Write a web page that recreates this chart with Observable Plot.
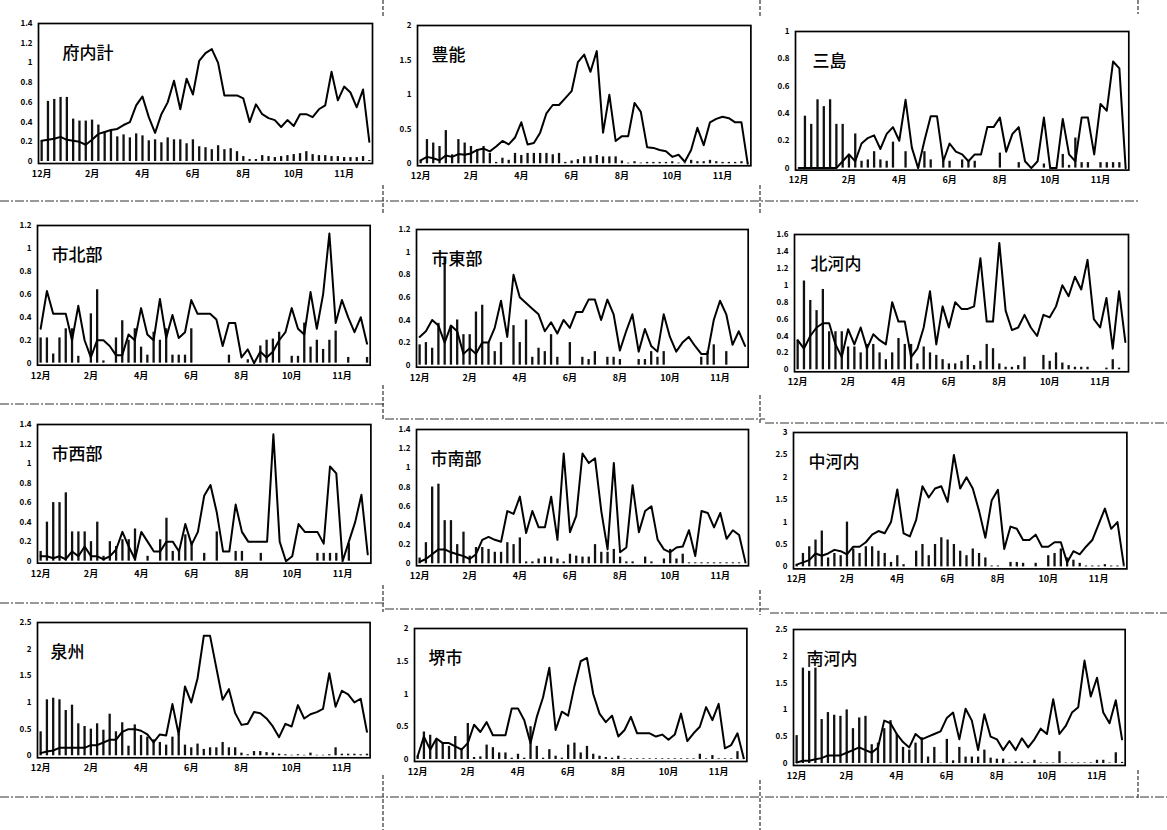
<!DOCTYPE html>
<html><head><meta charset="utf-8">
<script src="https://cdn.jsdelivr.net/npm/d3@7"></script>
<script src="https://cdn.jsdelivr.net/npm/@observablehq/plot@0.6"></script>
<style>
body{margin:0;background:#fff;width:1167px;height:830px;position:relative;overflow:hidden;font-family:"Noto Sans CJK JP","Noto Sans",sans-serif;}
.panel{position:absolute;}
#deco{position:absolute;left:0;top:0;}
.panel svg g[aria-label="x-axis tick label"] text,
.panel svg g[aria-label="y-axis tick label"] text{font-weight:bold;}
</style></head><body>
<svg id="deco" width="1167" height="830"></svg>
<script>
// ---- data (weekly values, 53 weeks from December) ----
const titles = ["府内計","豊能","三島","市北部","市東部","北河内","市西部","市南部","中河内","泉州","堺市","南河内"];
const monthTicks = [0, 8, 16, 24, 32, 40, 48];
const monthLabels = ["12月","2月","4月","6月","8月","10月","11月"];
const yMaxes = [1.4, 2, 1, 1.2, 1.2, 1.6, 1.4, 1.4, 3, 2.5, 2, 2.5];
const yTickSteps = [0.2, 0.5, 0.2, 0.2, 0.2, 0.2, 0.2, 0.2, 0.5, 0.5, 0.5, 0.5];

const line1 = [0.21,0.22,0.23,0.25,0.22,0.21,0.2,0.17,0.22,0.28,0.3,0.32,0.33,0.37,0.4,0.57,0.66,0.45,0.29,0.48,0.6,0.82,0.53,0.84,0.68,1.02,1.1,1.14,1.0,0.67,0.67,0.67,0.64,0.4,0.58,0.48,0.44,0.42,0.35,0.42,0.36,0.48,0.48,0.45,0.53,0.57,0.91,0.62,0.76,0.7,0.55,0.73,0.2];
const bars1 = [0.21,0.61,0.63,0.65,0.65,0.43,0.41,0.41,0.42,0.37,0.3,0.32,0.25,0.27,0.24,0.28,0.26,0.21,0.22,0.19,0.24,0.22,0.22,0.18,0.22,0.15,0.14,0.12,0.16,0.12,0.13,0.1,0.05,0.02,0.02,0.06,0.05,0.04,0.05,0.06,0.07,0.08,0.1,0.07,0.06,0.06,0.05,0.05,0.04,0.04,0.04,0.05,0.01];

const line2 = [0.05,0.1,0.08,0.05,0.12,0.1,0.14,0.13,0.15,0.2,0.22,0.18,0.25,0.33,0.28,0.38,0.6,0.28,0.3,0.45,0.73,0.85,0.85,0.95,1.05,1.47,1.58,1.33,1.63,0.45,1.0,0.33,0.4,0.4,0.88,0.75,0.24,0.23,0.2,0.18,0.1,0.13,0.03,0.2,0.52,0.27,0.6,0.65,0.68,0.66,0.6,0.6,0.0];
const bars2 = [0.05,0.35,0.3,0.25,0.48,0.13,0.35,0.3,0.25,0.2,0.25,0.15,0.02,0.08,0.05,0.15,0.12,0.15,0.15,0.15,0.15,0.13,0.15,0.02,0.04,0.06,0.1,0.1,0.12,0.1,0.1,0.1,0.04,0.01,0.03,0.01,0.02,0.02,0.02,0.02,0.03,0.01,0.01,0.05,0.03,0.03,0.05,0.03,0.02,0.02,0.02,0.03,0.01];

const line3 = [0,0,0,0,0,0,0,0.05,0.1,0.05,0.18,0.22,0.24,0.14,0.25,0.3,0.2,0.5,0.15,0,0.2,0.38,0.38,0.05,0.18,0.12,0.1,0.05,0.1,0.1,0.3,0.3,0.37,0.12,0.25,0.3,0.05,0,0.05,0.37,0,0,0.36,0.1,0.05,0.37,0.37,0.1,0.47,0.42,0.78,0.73,0];
const bars3 = [0,0.38,0.32,0.5,0.45,0.5,0.32,0.32,0.1,0.25,0.05,0.06,0.12,0.06,0.05,0.19,0,0.12,0,0.02,0.12,0.06,0,0.05,0.05,0,0.06,0.05,0.05,0,0,0,0.11,0,0,0.04,0,0,0,0.03,0,0,0.1,0.02,0.22,0.04,0.04,0,0.04,0.04,0.04,0.04,0];

const line4 = [0.3,0.63,0.43,0.43,0.43,0.2,0.5,0.2,0.05,0.2,0.2,0.15,0.07,0.07,0.25,0.2,0.48,0.25,0.2,0.56,0.22,0.42,0.22,0.27,0.55,0.43,0.43,0.43,0.38,0.15,0.35,0.35,0.05,0.12,0,0.1,0.05,0.1,0.2,0.27,0.48,0.3,0.25,0.62,0.3,0.6,1.13,0.35,0.55,0.4,0.27,0.4,0.17];
const bars4 = [0.22,0.22,0.08,0.22,0.3,0.3,0.06,0,0.43,0.64,0.02,0,0.22,0.37,0.2,0.3,0.14,0.07,0.27,0.2,0.3,0.07,0.07,0.07,0.3,0,0,0,0,0,0.07,0,0,0.03,0,0.15,0.2,0.21,0.27,0,0.06,0.06,0.35,0.14,0.2,0.12,0.2,0.28,0,0.05,0,0,0.05];

const line5 = [0.25,0.3,0.4,0.35,0.2,0.35,0.3,0.1,0.15,0.1,0.2,0.2,0.33,0.57,0.25,0.8,0.6,0.55,0.5,0.45,0.3,0.38,0.28,0.4,0.33,0.47,0.47,0.58,0.58,0.4,0.58,0.45,0.13,0.3,0.45,0.12,0.32,0.17,0.12,0.45,0.25,0.12,0.2,0.25,0.17,0.1,0.1,0.4,0.57,0.45,0.18,0.3,0.17];
const bars5 = [0.18,0.2,0.15,0.37,0.95,0.35,0.4,0.27,0.27,0.47,0.53,0.2,0.12,0.2,0,0.35,0.2,0.4,0.07,0.15,0.12,0.27,0.07,0,0.2,0,0.07,0.05,0.12,0,0.07,0.07,0.05,0,0,0.05,0.05,0.12,0.07,0.12,0,0,0,0,0,0.07,0.12,0.18,0,0.12,0,0,0];

const line6 = [0.35,0.25,0.4,0.5,0.55,0.55,0.3,0.15,0.48,0.3,0.5,0.25,0.42,0.35,0.3,0.8,0.57,0.57,0.15,0.25,0.5,0.93,0.3,0.75,0.5,0.8,0.72,0.72,0.75,1.32,0.57,0.57,1.5,0.7,0.47,0.5,0.65,0.5,0.4,0.65,0.62,0.75,1.0,0.87,1.1,0.95,1.3,0.6,0.5,0.85,0.25,0.93,0.33];
const bars6 = [0.35,1.05,0.82,0.7,0.95,0.45,0.45,0.45,0.27,0.27,0.2,0.3,0.3,0.2,0.12,0.2,0.37,0.3,0.3,0.07,0.27,0.2,0.17,0.12,0.07,0.07,0.1,0.17,0.05,0.1,0.3,0.25,0.07,0.03,0.03,0.05,0.15,0,0,0.17,0.1,0.2,0.08,0.05,0.03,0.03,0.03,0,0,0.02,0.12,0.02,0];

const line7 = [0.05,0.05,0.03,0.05,0.02,0.1,0.05,0.15,0.05,0.05,0.02,0.05,0.12,0.3,0.15,0.02,0.3,0.2,0.1,0.1,0.2,0.2,0.1,0.38,0.17,0.3,0.67,0.78,0.5,0.1,0.1,0.58,0.3,0.2,0.2,0.2,0.2,1.3,0.2,0,0.05,0.38,0.3,0.3,0.3,0.18,0.97,0.9,0,0.2,0.4,0.68,0.07];
const bars7 = [0.1,0.4,0.6,0.6,0.7,0.3,0.3,0.3,0.2,0.4,0.05,0.2,0.15,0.22,0.22,0.33,0,0.05,0,0.22,0.44,0.1,0.1,0.27,0.2,0,0.08,0,0.3,0,0,0.1,0.1,0,0,0.08,0,0,0,0,0,0,0,0,0.08,0.08,0.08,0.08,0,0.18,0,0,0];

const line8 = [0.02,0.05,0.1,0.15,0.15,0.12,0.1,0.08,0.05,0.1,0.25,0.28,0.25,0.23,0.55,0.52,0.7,0.32,0.55,0.38,0.38,0.7,0.25,1.15,0.33,0.5,1.15,1.05,1.1,0.55,0.15,1.05,0.12,0.17,0.82,0.33,0.55,0.6,0.25,0.15,0.12,0.17,0.18,0.35,0.08,0.55,0.53,0.38,0.53,0.26,0.35,0.3,0.02];
const bars8 = [0.06,0.22,0.8,0.83,0.45,0.45,0.2,0.33,0.08,0.17,0.17,0.15,0.12,0.12,0.22,0.2,0.27,0.02,0.02,0.05,0.07,0.07,0.05,0.02,0.1,0.08,0.07,0.07,0.2,0.12,0.12,0.15,0.07,0.02,0.02,0,0.07,0.02,0,0.05,0.15,0.05,0.1,0.01,0.01,0.01,0.01,0.01,0.01,0.01,0.01,0.01,0.01];

const line9 = [0.05,0.1,0.15,0.3,0.25,0.3,0.38,0.35,0.28,0.45,0.45,0.55,0.72,0.8,0.75,1.0,1.73,0.75,0.68,1.05,1.8,1.55,1.75,1.8,1.45,2.5,1.75,2.0,1.75,1.25,0.65,1.48,1.72,0.4,0.9,0.85,0.6,0.6,0.72,0.45,0.45,0.55,0.55,0.1,0.35,0.28,0.45,0.6,0.95,1.3,0.85,1.0,0.05];
const bars9 = [0.05,0.3,0.45,0.6,0.8,0.2,0.3,0.25,1.0,0.4,0.3,0.45,0.45,0.35,0.3,0.1,0.25,0.05,0,0.35,0.5,0.25,0.5,0.65,0.6,0.5,0.35,0.25,0.4,0.3,0.2,0.02,0.02,0,0.1,0.1,0.08,0,0.08,0,0.25,0.3,0.4,0.2,0.15,0.08,0.02,0.02,0.02,0.05,0.02,0.02,0.02];

const line10 = [0.05,0.08,0.1,0.15,0.15,0.15,0.15,0.15,0.2,0.2,0.25,0.3,0.3,0.45,0.5,0.5,0.47,0.4,0.25,0.4,0.38,0.97,0.4,1.3,1.0,1.45,2.25,2.25,1.65,1.05,1.25,0.8,0.58,0.6,0.82,0.8,0.7,0.55,0.35,0.6,0.55,0.95,0.7,0.78,0.82,0.88,1.55,0.92,1.22,1.15,1.0,1.07,0.45];
const bars10 = [0.45,1.05,1.08,1.05,0.85,0.95,0.6,0.55,0.5,0.6,0.48,0.78,0.45,0.62,0.18,0.58,0.38,0.35,0.3,0.25,0.2,0.35,0.4,0.2,0.15,0.22,0.12,0.15,0.15,0.25,0.15,0.15,0.05,0.02,0.08,0.08,0.06,0.05,0.03,0.02,0.01,0.02,0.01,0.05,0.01,0.01,0.02,0.15,0.03,0.03,0.03,0.02,0.03];

const line11 = [0.05,0.35,0.15,0.32,0.25,0.25,0.2,0.15,0.25,0.53,0.42,0.57,0.37,0.37,0.37,0.78,0.78,0.6,0.25,0.65,0.95,1.4,0.45,0.73,0.67,1.12,1.5,1.55,1.0,0.7,0.57,0.67,0.35,0.45,0.65,0.4,0.4,0.4,0.35,0.38,0.3,0.38,0.7,0.28,0.4,0.5,0.8,0.6,0.85,0.17,0.22,0.4,0.02];
const bars11 = [0.05,0.42,0.37,0.3,0.25,0.2,0.35,0.17,0.55,0.03,0.04,0.22,0.18,0.1,0.1,0.02,0.08,0.02,0.5,0.2,0.02,0.15,0.05,0.02,0.22,0.25,0.1,0.2,0.08,0.05,0.03,0.02,0.05,0.01,0.01,0.01,0.01,0.01,0.01,0.01,0.01,0.01,0.01,0.01,0.01,0.08,0.01,0.06,0.01,0.01,0.01,0.12,0.01];

const line12 = [0.02,0.05,0.05,0.08,0.1,0.15,0.15,0.15,0.2,0.25,0.3,0.25,0.2,0.3,0.8,0.75,0.55,0.4,0.3,0.55,0.45,0.5,0.55,0.6,0.85,0.95,0.45,1.02,0.8,0.25,0.92,0.5,0.45,0.25,0.42,0.25,0.47,0.3,0.45,0.65,0.55,1.2,0.55,0.7,0.95,1.05,1.92,1.25,1.6,0.95,0.75,1.18,0.45];
const bars12 = [0.52,1.78,1.72,1.78,0.82,0.95,0.9,0.88,1.0,0.65,0.85,0.88,0.35,0.38,0.65,0.8,0.55,0.3,0.25,0.38,0.48,0.12,0.3,0.01,0.45,0.05,0.3,0.12,0.12,0.12,0.25,0.1,0.08,0.08,0.01,0.03,0.03,0.01,0.06,0.01,0.01,0.01,0.22,0.01,0.01,0.01,0.01,0.01,0.06,0.06,0.01,0.2,0.02];

const lines = [line1,line2,line3,line4,line5,line6,line7,line8,line9,line10,line11,line12];
const barsAll = [bars1,bars2,bars3,bars4,bars5,bars6,bars7,bars8,bars9,bars10,bars11,bars12];

// ---- layout: frame boxes [left, right, top, zero-line] in page pixels ----
const frames = [
  [38, 372, 22.7, 160.7],
  [417.3, 750.7, 25, 163.3],
  [795, 1128.3, 30.7, 167.3],
  [37.3, 370, 225, 362.7],
  [416, 747.7, 229.3, 365],
  [794.3, 1128.3, 234, 369.3],
  [37.3, 370.7, 424, 560.7],
  [415.7, 747.7, 429, 563.3],
  [793.3, 1126.7, 432.3, 566.7],
  [36.7, 369.3, 622, 755.3],
  [414.3, 746.7, 628.3, 759.3],
  [793.3, 1125, 629.3, 763.3]
];
const titleDx = [24,14,17,14,15,16,14,14,15,13,14,13];

const mL = 40, mR = 4, mT = 4, mB = 24, inset = 2;
const fmt = d => String(+d.toFixed(2));

titles.forEach((title, i) => {
  const [l, r, t, b] = frames[i];
  const w = r - l + mL + mR;
  const h = b - t + inset + mT + mB;
  const lineData = lines[i].map((v, k) => ({week: k, value: v}));
  const barData = barsAll[i].map((v, k) => ({week: k, value: v})).filter(d => d.value > 0);
  const yTicks = d3.range(0, yMaxes[i] + 1e-9, yTickSteps[i]).map(v => +v.toFixed(2));
  const chart = Plot.plot({
    width: w, height: h,
    marginLeft: mL, marginRight: mR, marginTop: mT, marginBottom: mB,
    style: {background: "transparent", fontFamily: "'Noto Sans CJK JP','Noto Sans',sans-serif", overflow: "visible", color: "#000"},
    x: {domain: [-0.5, 52.5]},
    y: {domain: [0, yMaxes[i]], insetBottom: inset},
    marks: [
      Plot.ruleX(barData, {x: "week", y1: 0, y2: "value", stroke: "#111", strokeWidth: 2.3}),
      Plot.line(lineData, {x: "week", y: "value", stroke: "#000", strokeWidth: 2, strokeLinejoin: "round"}),
      Plot.frame({stroke: "#000", strokeWidth: 1.7}),
      Plot.axisX({ticks: monthTicks, tickFormat: d => monthLabels[monthTicks.indexOf(d)], tickSize: 0, tickPadding: 7, label: null, fontSize: 9, fontWeight: "bold"}),
      Plot.axisY({ticks: yTicks, tickFormat: fmt, tickSize: 0, tickPadding: 6, label: null, fontSize: 8, fontWeight: "bold"}),
      Plot.text([title], {frameAnchor: "top-left", text: d => d, dx: titleDx[i], dy: 30, textAnchor: "start", lineAnchor: "middle", fontSize: 17, fontWeight: 500, fill: "#000"})
    ]
  });
  chart.querySelectorAll("g[aria-label$='tick label'] text, g[aria-label$='tick label']").forEach(n => n.setAttribute("font-weight", "bold"));
  const div = document.createElement("div");
  div.className = "panel";
  div.style.left = (l - mL) + "px";
  div.style.top = (t - mT) + "px";
  div.appendChild(chart);
  document.body.appendChild(div);
});

// ---- scan-like separator lines between the rows ----
const sepH = [[0,1140,201],[0,385,404],[385,765,419],[765,1167,423],[0,385,603],[385,770,609],[770,1167,613],[0,1167,797]];
const sepV = [[383,0,18],[760,0,16],[1138,0,14],[383,185,215],[760,185,214],[383,385,420],[760,395,425],[383,585,612],[760,590,615],[383,775,830],[760,780,830],[1138,770,800]];
const deco = d3.select("#deco");
deco.selectAll("line.h").data(sepH).join("line").attr("class","h")
  .attr("x1", d => d[0]).attr("x2", d => d[1]).attr("y1", d => d[2]).attr("y2", d => d[2])
  .attr("stroke", "#333").attr("stroke-width", 1).attr("stroke-dasharray", "9 2 2 2");
deco.selectAll("line.v").data(sepV).join("line").attr("class","v")
  .attr("x1", d => d[0]).attr("x2", d => d[0]).attr("y1", d => d[1]).attr("y2", d => d[2])
  .attr("stroke", "#333").attr("stroke-width", 1.2).attr("stroke-dasharray", "4 2");
</script></body></html>
